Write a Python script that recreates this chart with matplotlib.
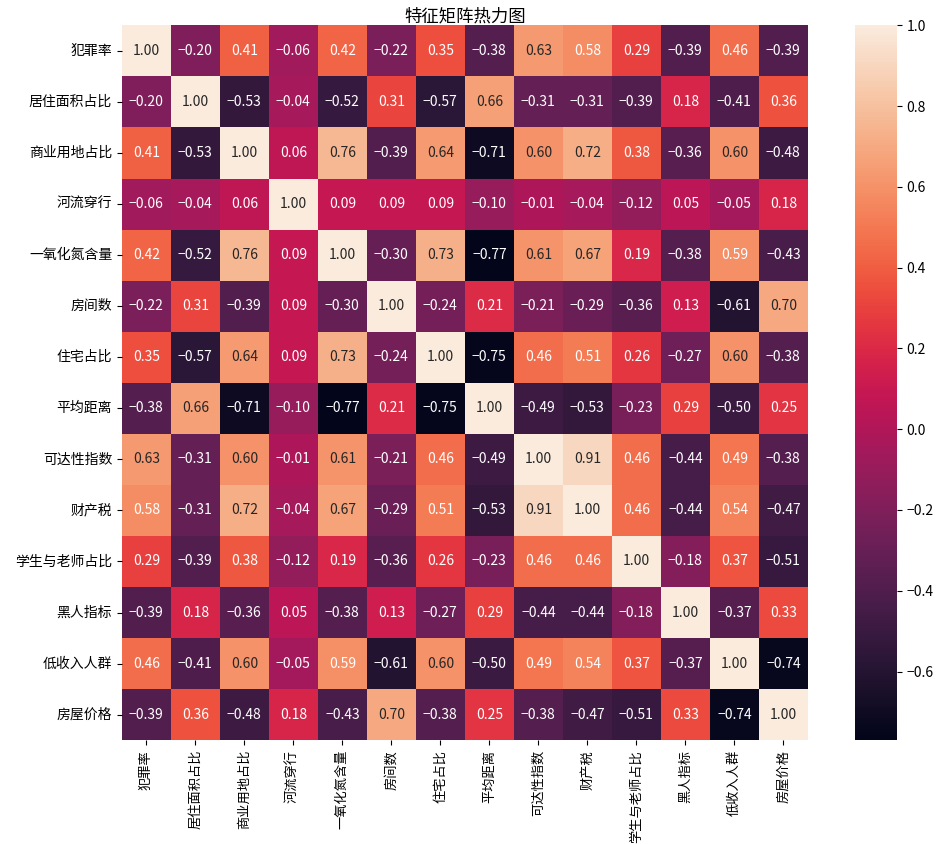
import matplotlib
matplotlib.use('Agg')
import matplotlib.pyplot as plt
import numpy as np
import pandas as pd
import seaborn as sns

labels = ['犯罪率', '居住面积占比', '商业用地占比', '河流穿行', '一氧化氮含量', '房间数', '住宅占比',
          '平均距离', '可达性指数', '财产税', '学生与老师占比', '黑人指标', '低收入人群', '房屋价格']

corr_values = [
    [1.00, -0.20, 0.41, -0.06, 0.42, -0.22, 0.35, -0.38, 0.63, 0.58, 0.29, -0.39, 0.46, -0.39],
    [-0.20, 1.00, -0.53, -0.04, -0.52, 0.31, -0.57, 0.66, -0.31, -0.31, -0.39, 0.18, -0.41, 0.36],
    [0.41, -0.53, 1.00, 0.06, 0.76, -0.39, 0.64, -0.71, 0.60, 0.72, 0.38, -0.36, 0.60, -0.48],
    [-0.06, -0.04, 0.06, 1.00, 0.09, 0.09, 0.09, -0.10, -0.01, -0.04, -0.12, 0.05, -0.05, 0.18],
    [0.42, -0.52, 0.76, 0.09, 1.00, -0.30, 0.73, -0.77, 0.61, 0.67, 0.19, -0.38, 0.59, -0.43],
    [-0.22, 0.31, -0.39, 0.09, -0.30, 1.00, -0.24, 0.21, -0.21, -0.29, -0.36, 0.13, -0.61, 0.70],
    [0.35, -0.57, 0.64, 0.09, 0.73, -0.24, 1.00, -0.75, 0.46, 0.51, 0.26, -0.27, 0.60, -0.38],
    [-0.38, 0.66, -0.71, -0.10, -0.77, 0.21, -0.75, 1.00, -0.49, -0.53, -0.23, 0.29, -0.50, 0.25],
    [0.63, -0.31, 0.60, -0.01, 0.61, -0.21, 0.46, -0.49, 1.00, 0.91, 0.46, -0.44, 0.49, -0.38],
    [0.58, -0.31, 0.72, -0.04, 0.67, -0.29, 0.51, -0.53, 0.91, 1.00, 0.46, -0.44, 0.54, -0.47],
    [0.29, -0.39, 0.38, -0.12, 0.19, -0.36, 0.26, -0.23, 0.46, 0.46, 1.00, -0.18, 0.37, -0.51],
    [-0.39, 0.18, -0.36, 0.05, -0.38, 0.13, -0.27, 0.29, -0.44, -0.44, -0.18, 1.00, -0.37, 0.33],
    [0.46, -0.41, 0.60, -0.05, 0.59, -0.61, 0.60, -0.50, 0.49, 0.54, 0.37, -0.37, 1.00, -0.74],
    [-0.39, 0.36, -0.48, 0.18, -0.43, 0.70, -0.38, 0.25, -0.38, -0.47, -0.51, 0.33, -0.74, 1.00],
]

plt.rcParams['font.family'] = ['Noto Sans CJK SC', 'DejaVu Sans']
plt.rcParams['axes.unicode_minus'] = True

corr = pd.DataFrame(corr_values, index=labels, columns=labels)

fig = plt.figure(figsize=(9.52, 8.44), dpi=100)
ax = fig.add_axes([0.128, 0.123, 0.7206, 0.847])
cax = fig.add_axes([0.898, 0.123, 0.044, 0.847])

sns.heatmap(corr, annot=True, fmt='.2f', cmap='rocket', ax=ax, cbar_ax=cax,
            annot_kws={'fontsize': 10})
# seaborn writes '-' in annotations; use the real minus sign like the original
for t in ax.texts:
    t.set_text(t.get_text().replace('-', '\u2212'))

ax.set_title('特征矩阵热力图', fontsize=12.5, pad=3)
ax.tick_params(axis='y', labelsize=10)
ax.tick_params(axis='x', labelsize=9.5)
plt.setp(ax.get_xticklabels(), rotation=90)
plt.setp(ax.get_yticklabels(), rotation=0)
cax.tick_params(labelsize=10)

fig.savefig('out.png', dpi=100)
